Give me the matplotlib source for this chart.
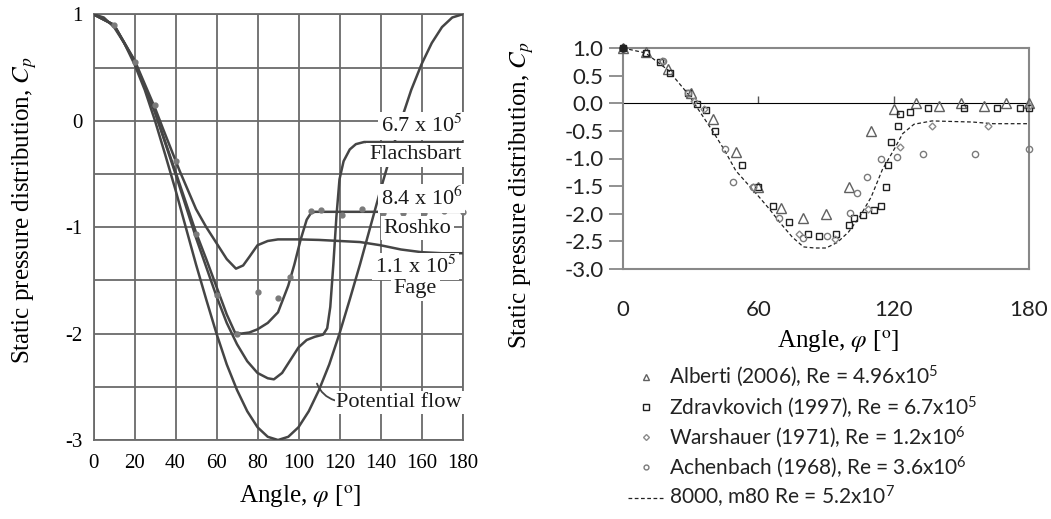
import matplotlib
matplotlib.use('Agg')

import matplotlib.pyplot as plt
from matplotlib.lines import Line2D
import numpy as np

plt.rcParams['mathtext.fontset'] = 'custom'
plt.rcParams['mathtext.rm'] = 'Lato'
plt.rcParams['mathtext.it'] = 'Lato:italic'
plt.rcParams['axes.unicode_minus'] = False

SERIF = 'Liberation Serif'
SANS = 'Lato'
CURVE = '#454545'
GRIDC = '#6a6a6a'

pot_ang = [0, 5, 10, 15, 20, 25, 30, 35, 40, 45, 50, 55, 60, 65, 70, 75, 80, 85, 90,
           95, 100, 105, 110, 115, 120, 125, 130, 135, 140, 145, 150, 155, 160, 165, 170, 175, 180]
pot_cp = [1.0, 0.97, 0.88, 0.73, 0.53, 0.29, 0.0, -0.32, -0.65, -1.0, -1.35, -1.68, -2.0, -2.29,
          -2.53, -2.73, -2.88, -2.97, -3.0, -2.97, -2.88, -2.73, -2.53, -2.29, -2.0, -1.68,
          -1.35, -1.0, -0.65, -0.32, 0.0, 0.29, 0.53, 0.73, 0.88, 0.97, 1.0]

fla_ang = [0, 10, 20, 30, 40, 50, 60, 65, 70, 75, 80, 85, 88, 92, 96, 100, 104, 108, 112,
           114, 115.5, 117, 118.5, 120, 122, 125, 128, 132, 180]
fla_cp = [1.0, 0.9, 0.56, 0.08, -0.5, -1.1, -1.65, -1.9, -2.1, -2.26, -2.37, -2.42, -2.43,
          -2.37, -2.25, -2.13, -2.06, -2.03, -2.01, -1.95, -1.75, -1.35, -0.9, -0.55, -0.38,
          -0.27, -0.22, -0.2, -0.2]

ros_ang = [0, 10, 20, 30, 40, 50, 55, 60, 65, 69, 72, 76, 80, 85, 90, 95, 98, 101, 104,
           106, 108, 180]
ros_cp = [1.0, 0.9, 0.56, 0.08, -0.48, -1.05, -1.3, -1.56, -1.82, -1.99, -2.0, -1.99, -1.96,
          -1.9, -1.8, -1.55, -1.35, -1.12, -0.93, -0.87, -0.856, -0.856]

fag_ang = [0, 10, 20, 30, 34, 42, 50, 55, 60, 65, 69.5, 73, 76, 80, 85, 90, 100, 110, 120,
           130, 140, 150, 160, 170, 180]
fag_cp = [1.0, 0.9, 0.57, 0.12, -0.08, -0.47, -0.83, -1.0, -1.15, -1.3, -1.39, -1.36, -1.28,
          -1.17, -1.13, -1.115, -1.115, -1.12, -1.13, -1.14, -1.17, -1.21, -1.235, -1.245, -1.245]

ros_pts_ang = [10, 20, 30, 40, 50, 60, 70, 80, 90, 96, 106, 111, 121, 131, 141, 151, 161, 171, 180]
ros_pts_cp = [0.9, 0.55, 0.15, -0.38, -1.06, -1.64, -2.0, -1.61, -1.67, -1.47, -0.85, -0.84,
              -0.89, -0.83, -0.87, -0.87, -0.87, -0.85, -0.86]

# ---- right panel: experimental data ----
alb_ang = [0, 10, 20, 30, 40, 50, 60, 70, 80, 90, 100, 110, 120, 130, 140, 150, 160, 170, 180]
alb_cp = [1.0, 0.93, 0.62, 0.19, -0.29, -0.89, -1.51, -1.90, -2.08, -2.01, -1.51, -0.50,
          -0.11, 0.01, -0.05, 0.01, -0.05, 0.01, 0.0]

zdr_ang = [0, 10.3, 16.2, 20.7, 28.8, 33, 36.9, 40.9, 52.7, 59.8, 66.6, 73.7, 81.8, 86.7,
           94.4, 100.3, 102.5, 106.5, 111.4, 114.6, 116.8, 117.6, 118.6, 122, 122.7, 127.2,
           135.3, 151.2, 165.8, 175.9, 180]
zdr_cp = [1.0, 0.91, 0.74, 0.55, 0.19, -0.02, -0.12, -0.51, -1.11, -1.51, -1.86, -2.15,
          -2.36, -2.41, -2.36, -2.21, -2.07, -2.02, -1.94, -1.86, -1.51, -1.11, -0.71, -0.41,
          -0.20, -0.15, -0.09, -0.09, -0.09, -0.09, -0.09]

war_ang = [0, 17.3, 31.3, 35.7, 57.8, 78, 94.2, 108.6, 122.7, 137.2, 161.8, 180]
war_cp = [1.0, 0.76, 0.04, -0.11, -1.51, -2.36, -2.46, -1.92, -0.80, -0.41, -0.41, -0.05]

ach_ang = [0, 17.7, 28.8, 45, 48.6, 57.5, 69.2, 79.7, 90.3, 100.6, 103.9, 108, 114.3,
           121.5, 133, 156, 180]
ach_cp = [1.0, 0.76, 0.19, -0.82, -1.42, -1.51, -2.08, -2.43, -2.40, -1.98, -1.63, -1.33,
          -1.01, -0.97, -0.91, -0.91, -0.82]

m80_ang = [0, 10, 20, 29, 40, 45, 50, 55, 60, 65, 70, 75, 80, 85, 90, 95, 100, 105, 110,
           115, 120, 124, 129, 137, 155, 164, 180]
m80_cp = [1.0, 0.91, 0.6, 0.16, -0.52, -0.85, -1.22, -1.45, -1.68, -1.92, -2.18, -2.42,
          -2.60, -2.62, -2.62, -2.52, -2.33, -2.05, -1.7, -1.2, -0.85, -0.55, -0.38, -0.32,
          -0.34, -0.37, -0.37]

legend_labels = ['Alberti (2006), Re = 4.96x10$^5$',
                 'Zdravkovich (1997), Re = 6.7x10$^5$',
                 'Warshauer (1971), Re = 1.2x10$^6$',
                 'Achenbach (1968), Re = 3.6x10$^6$',
                 '8000, m80 Re = 5.2x10$^7$']

W, H = 1051, 519
fig = plt.figure(figsize=(W / 100, H / 100), dpi=100)

# ================= left panel =================
axL = fig.add_axes([93.5 / W, 1 - 440 / H, (462.5 - 93.5) / W, (440 - 14.3) / H])
axL.set_xlim(0, 180)
axL.set_ylim(-3, 1)
axL.set_xticks(np.arange(0, 181, 20))
axL.set_yticks([-3, -2, -1, 0, 1])
axL.set_yticks([-2.5, -1.5, -0.5, 0.5], minor=True)
axL.grid(True, which='both', color=GRIDC, lw=1.3)
axL.tick_params(which='both', length=0, labelsize=15)
axL.tick_params(axis='x', pad=10)
axL.tick_params(axis='y', pad=8)
for lab in axL.get_xticklabels() + axL.get_yticklabels():
    lab.set_fontfamily(SERIF)
for sp in axL.spines.values():
    sp.set_color(GRIDC)
    sp.set_linewidth(1.3)

for a, c in [(pot_ang, pot_cp), (fla_ang, fla_cp), (ros_ang, ros_cp), (fag_ang, fag_cp)]:
    axL.plot(a, c, color=CURVE, lw=1.8, zorder=3)
axL.plot(ros_pts_ang, ros_pts_cp, 'o', ms=3.5, color='#7a7a7a', zorder=4, clip_on=False)

lab_kw = dict(family=SERIF, math_fontfamily='stix', fontsize=16, color='#1a1a1a',
              ha='center', va='center', zorder=5,
              bbox=dict(boxstyle='square,pad=0.12', fc='white', ec='none'))
axL.text(160, -0.05, '6.7 x 10$^5$', **lab_kw)
axL.text(157, -0.32, 'Flachsbart', **lab_kw)
axL.text(160, -0.73, '8.4 x 10$^6$', **lab_kw)
axL.text(158, -1.01, 'Roshko', **lab_kw)
axL.text(157, -1.37, '1.1 x 10$^5$', **lab_kw)
axL.text(157, -1.58, 'Fage', **lab_kw)
axL.annotate('Potential flow', xy=(109, -2.47), xytext=(118.5, -2.65),
             family=SERIF, fontsize=16, color='#1a1a1a', ha='left', va='center', zorder=5,
             bbox=dict(boxstyle='square,pad=0.08', fc='white', ec='none'),
             arrowprops=dict(arrowstyle='-', color=CURVE, lw=1.3, relpos=(0, 0.6),
                             connectionstyle='arc3,rad=-0.25', shrinkA=0, shrinkB=0))

fig.text(25 / W, 1 - 210 / H, 'Static pressure distribution, $C_p$', rotation=90,
         family=SERIF, math_fontfamily='stix', fontsize=18, ha='center', va='center')
fig.text(300 / W, 1 - 497 / H, r'Angle, $\varphi$ [$^{\rm o}$]',
         family=SERIF, math_fontfamily='stix', fontsize=18, ha='center', va='center')

# ================= right panel =================
axR = fig.add_axes([623 / W, 1 - 269 / H, 406 / W, 221 / H])
axR.set_xlim(0, 180)
axR.set_ylim(-3, 1)
axR.set_xticks([0, 60, 120, 180])
axR.set_yticks(np.arange(-3, 1.01, 0.5))
axR.set_yticklabels(['%.1f' % v for v in np.arange(-3, 1.01, 0.5)])
axR.tick_params(axis='x', length=0, pad=22, labelsize=16, labelcolor='#222222')
axR.tick_params(axis='y', length=10, width=1.3, color='#888888', pad=4, labelsize=16,
                labelcolor='#222222')
for lab in axR.get_xticklabels() + axR.get_yticklabels():
    lab.set_fontfamily(SANS)
for sp in axR.spines.values():
    sp.set_color('#888888')
    sp.set_linewidth(1.5)

zero_ax = axR.secondary_xaxis(0.75)
zero_ax.set_xticks([60, 120])
zero_ax.set_xticklabels([])
zero_ax.tick_params(length=5, width=1.0, color='#555555')
zero_ax.spines['bottom'].set_color('#555555')
zero_ax.spines['bottom'].set_linewidth(1.0)

axR.plot(m80_ang, m80_cp, ls=(0, (3, 2)), color='#222222', lw=0.9, zorder=2)
axR.plot(alb_ang, alb_cp, '^', ms=7, mfc='none', mec='#606060', mew=1.0, ls='none', zorder=3,
         clip_on=False)
axR.plot(zdr_ang, zdr_cp, 's', ms=5, mfc='none', mec='#202020', mew=1.0, ls='none', zorder=3,
         clip_on=False)
axR.plot(war_ang, war_cp, 'D', ms=3.5, mfc='none', mec='#8a8a8a', mew=1.0, ls='none', zorder=3,
         clip_on=False)
axR.plot(ach_ang, ach_cp, 'o', ms=4.5, mfc='none', mec='#7a7a7a', mew=1.0, ls='none', zorder=3,
         clip_on=False)
axR.plot([0], [1.0], 'o', ms=5, color='#222222', zorder=4, clip_on=False)

handles = [Line2D([], [], marker='^', ms=5, mfc='none', mec='#606060', ls='none'),
           Line2D([], [], marker='s', ms=4, mfc='none', mec='#202020', ls='none'),
           Line2D([], [], marker='D', ms=3, mfc='none', mec='#8a8a8a', ls='none'),
           Line2D([], [], marker='o', ms=3.5, mfc='none', mec='#7a7a7a', ls='none'),
           Line2D([], [], ls=(0, (3, 2)), color='#222222', lw=0.9)]
leg = fig.legend(handles, legend_labels, loc='upper left', bbox_to_anchor=(628 / W, 1 - 364 / H),
                 frameon=False, fontsize=15, handlelength=1.75, handletextpad=0.2,
                 labelspacing=0.22, borderaxespad=0, borderpad=0)
for t in leg.get_texts():
    t.set_fontfamily(SANS)
    t.set_color('#222222')

fig.text(522 / W, 1 - 195 / H, 'Static pressure distribution, $C_p$', rotation=90,
         family=SERIF, math_fontfamily='stix', fontsize=18, ha='center', va='center')
fig.text(838 / W, 1 - 342 / H, r'Angle, $\varphi$ [$^{\rm o}$]',
         family=SERIF, math_fontfamily='stix', fontsize=18, ha='center', va='center')

fig.savefig('out.png', dpi=100)
